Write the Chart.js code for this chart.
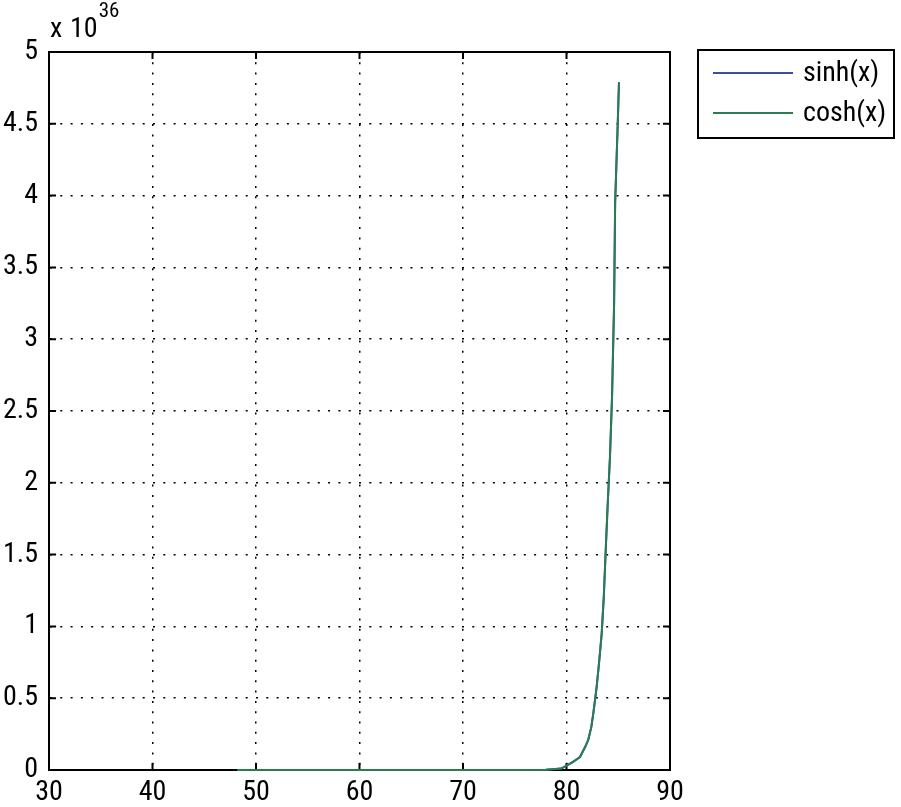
<!DOCTYPE html>
<html>
<head>
<meta charset="utf-8">
<script src="https://cdn.jsdelivr.net/npm/chart.js@4.4.1/dist/chart.umd.min.js"></script>
<style>
  body { margin: 0; background: #fff; }
  canvas { display: block; }
</style>
</head>
<body>
<canvas id="chart" width="901" height="807"></canvas>
<script>
// sinh / cosh plot, y values in units of 1e36

var xValues = [48.2, 55, 60, 65, 70, 75, 78, 79.5, 80, 80.6, 81.3, 81.8, 82.1, 82.4, 82.6, 82.9, 83.15, 83.4, 83.6, 83.8, 84.0, 84.2, 84.4, 84.6, 84.7, 84.95, 85.07];
var sinhValues = [0, 0, 0, 0, 0, 0, 0.002, 0.01, 0.03, 0.055, 0.09, 0.16, 0.21, 0.3, 0.4, 0.57, 0.75, 0.95, 1.2, 1.55, 1.88, 2.18, 2.6, 3.25, 3.95, 4.5, 4.79];
var coshValues = [0, 0, 0, 0, 0, 0, 0.002, 0.01, 0.03, 0.055, 0.09, 0.16, 0.21, 0.3, 0.4, 0.57, 0.75, 0.95, 1.2, 1.55, 1.88, 2.18, 2.6, 3.25, 3.95, 4.5, 4.79];
var seriesNames = ['sinh(x)', 'cosh(x)'];
var seriesColors = ['#3a4fa0', '#2a7d4e'];

var xTicks = {min: 30, max: 90, step: 10};
var yTicks = {min: 0, max: 5, step: 0.5};
var yExponent = '36';

function points(xs, ys) {
    return xs.map(function (x, i) { return {x: x, y: ys[i]}; });
}

var FONT = '"Roboto Condensed", "Liberation Sans", sans-serif';

// box frame + inward ticks, under the lines like in matlab
var matlabFrame = {
    id: 'matlabFrame',
    beforeDatasetsDraw: function (chart) {
        var ctx = chart.ctx;
        var a = chart.chartArea;
        var xs = chart.scales.x, ys = chart.scales.y;
        ctx.save();
        ctx.strokeStyle = '#000';
        ctx.lineWidth = 2;
        ctx.strokeRect(a.left, a.top, a.right - a.left, a.bottom - a.top);

        var tl = 7;
        ctx.beginPath();
        xs.ticks.forEach(function (t) {
            var px = xs.getPixelForValue(t.value);
            ctx.moveTo(px, a.bottom); ctx.lineTo(px, a.bottom - tl);
            ctx.moveTo(px, a.top); ctx.lineTo(px, a.top + tl);
        });
        ys.ticks.forEach(function (t) {
            var py = ys.getPixelForValue(t.value);
            ctx.moveTo(a.left, py); ctx.lineTo(a.left + tl, py);
            ctx.moveTo(a.right, py); ctx.lineTo(a.right - tl, py);
        });
        ctx.stroke();
        ctx.restore();
    },
    afterDraw: function (chart) {
        var ctx = chart.ctx;
        var a = chart.chartArea;
        ctx.save();
        // x 10^36 above the y axis
        ctx.fillStyle = '#000';
        ctx.textBaseline = 'alphabetic';
        ctx.textAlign = 'left';
        ctx.font = '28px ' + FONT;
        ctx.fillText('x', a.left + 1, a.top - 15);
        ctx.fillText('10', a.left + 21, a.top - 15);
        var w = ctx.measureText('10').width;
        ctx.font = '21px ' + FONT;
        ctx.fillText(yExponent, a.left + 22 + w, a.top - 35);

        // legend
        var lx = 698, ly = 50, lw = 196, lh = 88;
        ctx.strokeStyle = '#000';
        ctx.lineWidth = 2;
        ctx.fillStyle = '#fff';
        ctx.fillRect(lx, ly, lw, lh);
        ctx.strokeRect(lx, ly, lw, lh);
        ctx.font = '28px ' + FONT;
        ctx.textBaseline = 'middle';
        chart.data.datasets.forEach(function (ds, i) {
            var y = ly + 23 + i * 40;
            ctx.strokeStyle = ds.borderColor;
            ctx.lineWidth = 2;
            ctx.beginPath();
            ctx.moveTo(lx + 15, y);
            ctx.lineTo(lx + 95, y);
            ctx.stroke();
            ctx.fillStyle = '#000';
            ctx.fillText(ds.label, lx + 105, y + 1);
        });
        ctx.restore();
    }
};

var ctx = document.getElementById('chart').getContext('2d');
var chart = new Chart(ctx, {
    type: 'scatter',
    data: {
        datasets: [{
            label: seriesNames[0],
            data: points(xValues, sinhValues),
            borderColor: seriesColors[0],
            backgroundColor: seriesColors[0],
            showLine: true,
            borderWidth: 2,
            pointRadius: 0,
            tension: 0,
            clip: 2,
            order: 1
        }, {
            label: seriesNames[1],
            data: points(xValues, coshValues),
            borderColor: seriesColors[1],
            backgroundColor: seriesColors[1],
            showLine: true,
            borderWidth: 2,
            pointRadius: 0,
            tension: 0,
            clip: 2,
            order: 0
        }]
    },
    options: {
        responsive: false,
        animation: false,
        layout: {padding: {left: 0, top: 52, right: 231, bottom: 0}},
        plugins: {
            legend: {display: false},
            tooltip: {enabled: false}
        },
        scales: {
            x: {
                type: 'linear',
                min: xTicks.min,
                max: xTicks.max,
                afterFit: function (s) { s.height = 37; },
                ticks: {
                    stepSize: xTicks.step,
                    color: '#000',
                    padding: 6,
                    maxRotation: 0,
                    font: {family: FONT, size: 28}
                },
                grid: {color: '#000', lineWidth: 1.5, drawTicks: false},
                border: {display: true, color: '#000', width: 2, dash: [2, 8.3]}
            },
            y: {
                min: yTicks.min,
                max: yTicks.max,
                afterFit: function (s) { s.width = 49; },
                ticks: {
                    stepSize: yTicks.step,
                    color: '#000',
                    padding: 11,
                    font: {family: FONT, size: 28},
                    callback: function (v) { return String(Math.round(v * 10) / 10); }
                },
                grid: {color: '#000', lineWidth: 1.5, drawTicks: false},
                border: {display: true, color: '#000', width: 2, dash: [2, 8.3]}
            }
        }
    },
    plugins: [matlabFrame]
});
</script>
</body>
</html>
